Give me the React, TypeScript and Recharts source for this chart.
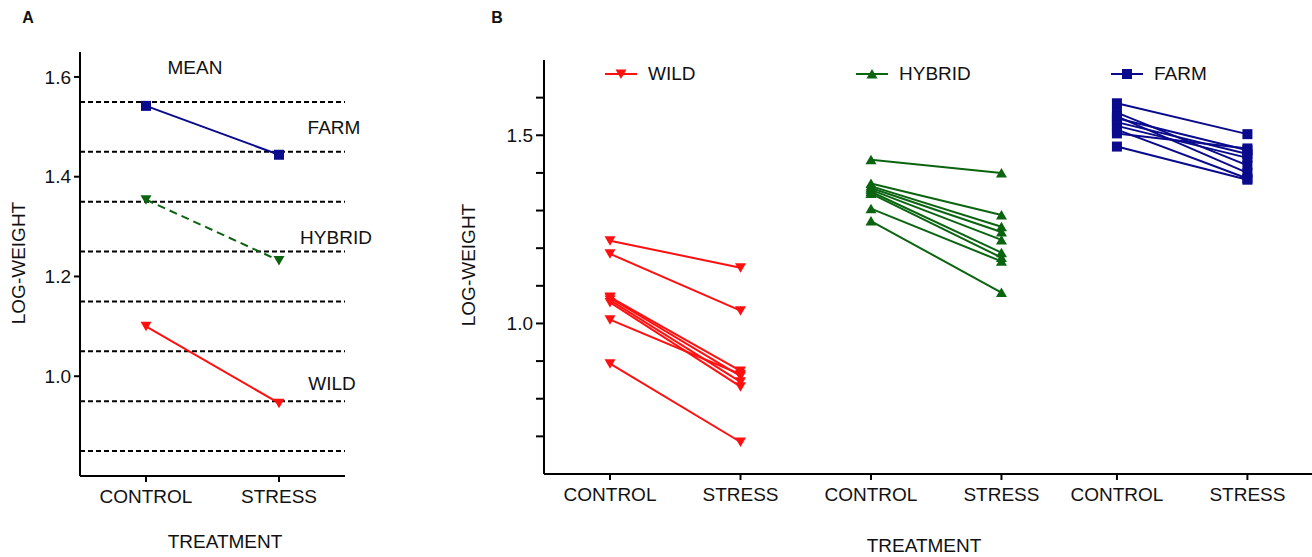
import { LineChart, Line, XAxis, YAxis, ReferenceLine } from "recharts";

// panel A: group means
const treatments = ["CONTROL", "STRESS"];
const meanFarm = [1.542, 1.444];
const meanHybrid = [1.354, 1.232];
const meanWild = [1.1, 0.946];
const guideLevels = [1.55, 1.45, 1.35, 1.25, 1.15, 1.05, 0.95, 0.85];
const aTicks = [1.0, 1.2, 1.4, 1.6];

// panel B: one line per family
const wildControl = [1.22, 1.185, 1.07, 1.068, 1.062, 1.056, 1.01, 0.893];
const wildStress = [1.148, 1.034, 0.874, 0.86, 0.845, 0.832, 0.865, 0.685];
const hybridControl = [1.435, 1.372, 1.365, 1.36, 1.355, 1.35, 1.345, 1.305, 1.272];
const hybridStress = [1.4, 1.288, 1.257, 1.243, 1.222, 1.188, 1.175, 1.165, 1.082];
const farmControl = [1.585, 1.56, 1.55, 1.545, 1.535, 1.525, 1.515, 1.505, 1.47];
const farmStress = [1.503, 1.42, 1.4, 1.46, 1.45, 1.44, 1.385, 1.465, 1.382];
const groupX = [1, 2, 3, 4, 4.885, 5.885];
const bTickLabels = ["CONTROL", "STRESS", "CONTROL", "STRESS", "CONTROL", "STRESS"];
const bTicks = [0.7, 0.8, 0.9, 1.0, 1.1, 1.2, 1.3, 1.4, 1.5, 1.6];
const bLabelled = [1.0, 1.5];

const RED = "#ff1010";
const GREEN = "#0b6410";
const NAVY = "#0a0a8c";
const FONT = '"Liberation Sans", Arial, sans-serif';

const downTri = (fill: string) => (p: any) => (
  <polygon
    key={`d${p.index}-${p.cx}-${p.cy}`}
    points={`${p.cx - 5.5},${p.cy - 4.5} ${p.cx + 5.5},${p.cy - 4.5} ${p.cx},${p.cy + 5}`}
    fill={fill}
  />
);
const upTri = (fill: string) => (p: any) => (
  <polygon
    key={`u${p.index}-${p.cx}-${p.cy}`}
    points={`${p.cx - 5.5},${p.cy + 4.5} ${p.cx + 5.5},${p.cy + 4.5} ${p.cx},${p.cy - 5}`}
    fill={fill}
  />
);
const square = (fill: string) => (p: any) => (
  <rect key={`s${p.index}-${p.cx}-${p.cy}`} x={p.cx - 5} y={p.cy - 5} width={10} height={10} fill={fill} />
);

const tickStyle = { fill: "#111", fontSize: 19, fontFamily: FONT };
const axisLine = { stroke: "#000", strokeWidth: 2 };
const tickLine = { stroke: "#000", strokeWidth: 2 };

const aData = treatments.map((t, i) => ({
  t,
  farm: meanFarm[i],
  hybrid: meanHybrid[i],
  wild: meanWild[i],
}));

function pairs(ctrl: number[], stress: number[], xc: number, xs: number) {
  return ctrl.map((c, i) => [
    { x: xc, y: c },
    { x: xs, y: stress[i] },
  ]);
}
const wildLines = pairs(wildControl, wildStress, groupX[0], groupX[1]);
const hybridLines = pairs(hybridControl, hybridStress, groupX[2], groupX[3]);
const farmLines = pairs(farmControl, farmStress, groupX[4], groupX[5]);

const Txt = ({ x, y, children, size = 19, bold = false, rotate = false }: any) => (
  <div
    style={{
      position: "absolute",
      left: x,
      top: y,
      transform: `translate(-50%, -50%)${rotate ? " rotate(-90deg)" : ""}`,
      fontSize: size,
      fontWeight: bold ? 700 : 400,
      lineHeight: 1,
      whiteSpace: "nowrap",
      color: "#111",
    }}
  >
    {children}
  </div>
);

const LegendItem = ({ x, label, color, shape }: any) => (
  <div style={{ position: "absolute", left: x, top: 62, display: "flex", alignItems: "center" }}>
    <svg width={34} height={24}>
      <line x1={0} y1={12} x2={32} y2={12} stroke={color} strokeWidth={2} />
      {shape({ cx: 16, cy: 12, index: 0 })}
    </svg>
    <span style={{ fontSize: 19, marginLeft: 9, color: "#111" }}>{label}</span>
  </div>
);

export default function App() {
  return (
    <div
      style={{
        position: "absolute",
        left: 0,
        top: 0,
        width: 1312,
        height: 557,
        background: "#fff",
        fontFamily: FONT,
      }}
    >
      {/* panel A */}
      <div style={{ position: "absolute", left: 0, top: 0 }}>
        <LineChart width={380} height={557} data={aData} margin={{ top: 52, right: 35, bottom: 0, left: 40 }}>
          <XAxis
            dataKey="t"
            height={81}
            padding={{ left: 66, right: 66 }}
            tick={tickStyle}
            axisLine={axisLine}
            tickLine={tickLine}
            tickSize={6}
            tickMargin={8}
          />
          <YAxis
            width={40}
            domain={[0.8, 1.65]}
            ticks={aTicks}
            tickFormatter={(v: number) => v.toFixed(1)}
            tick={tickStyle}
            axisLine={axisLine}
            tickLine={tickLine}
            tickSize={6}
            tickMargin={3}
          />
          {guideLevels.map((g) => (
            <ReferenceLine key={g} y={g} stroke="#000" strokeWidth={2} strokeDasharray="5 3" />
          ))}
          <Line dataKey="farm" stroke={NAVY} strokeWidth={2} dot={square(NAVY)} isAnimationActive={false} />
          <Line
            dataKey="hybrid"
            stroke={GREEN}
            strokeWidth={2}
            strokeDasharray="8 5"
            dot={downTri(GREEN)}
            isAnimationActive={false}
          />
          <Line dataKey="wild" stroke={RED} strokeWidth={2} dot={downTri(RED)} isAnimationActive={false} />
        </LineChart>
      </div>

      {/* panel B */}
      <div style={{ position: "absolute", left: 440, top: 0 }}>
        <LineChart width={872} height={557} margin={{ top: 60, right: 0, bottom: 0, left: 44 }}>
          <XAxis
            type="number"
            dataKey="x"
            domain={[0.494, 6.38]}
            ticks={groupX}
            interval={0}
            tickFormatter={(_v: number, i: number) => bTickLabels[i]}
            height={83}
            tick={tickStyle}
            axisLine={axisLine}
            tickLine={tickLine}
            tickSize={6}
            tickMargin={8}
            allowDataOverflow
          />
          <YAxis
            type="number"
            dataKey="y"
            width={60}
            domain={[0.6, 1.7]}
            ticks={bTicks}
            interval={0}
            tickFormatter={(v: number) => (bLabelled.some((b) => Math.abs(b - v) < 1e-6) ? v.toFixed(1) : "")}
            tick={tickStyle}
            axisLine={axisLine}
            tickLine={tickLine}
            tickSize={8}
            tickMargin={3}
            allowDataOverflow
          />
          {wildLines.map((d, i) => (
            <Line key={`w${i}`} data={d} dataKey="y" stroke={RED} strokeWidth={2} dot={downTri(RED)} isAnimationActive={false} />
          ))}
          {hybridLines.map((d, i) => (
            <Line key={`h${i}`} data={d} dataKey="y" stroke={GREEN} strokeWidth={2} dot={upTri(GREEN)} isAnimationActive={false} />
          ))}
          {farmLines.map((d, i) => (
            <Line key={`f${i}`} data={d} dataKey="y" stroke={NAVY} strokeWidth={2} dot={square(NAVY)} isAnimationActive={false} />
          ))}
        </LineChart>
      </div>

      {/* annotations */}
      <Txt x={28} y={18} size={16} bold>A</Txt>
      <Txt x={497} y={18} size={16} bold>B</Txt>
      <Txt x={18} y={263} rotate>LOG-WEIGHT</Txt>
      <Txt x={468} y={265} rotate>LOG-WEIGHT</Txt>
      <Txt x={225} y={541}>TREATMENT</Txt>
      <Txt x={924} y={545}>TREATMENT</Txt>
      <Txt x={195} y={67}>MEAN</Txt>
      <Txt x={334} y={127}>FARM</Txt>
      <Txt x={336} y={237}>HYBRID</Txt>
      <Txt x={332} y={383}>WILD</Txt>

      <LegendItem x={605} label="WILD" color={RED} shape={downTri(RED)} />
      <LegendItem x={856} label="HYBRID" color={GREEN} shape={upTri(GREEN)} />
      <LegendItem x={1111} label="FARM" color={NAVY} shape={square(NAVY)} />
    </div>
  );
}
